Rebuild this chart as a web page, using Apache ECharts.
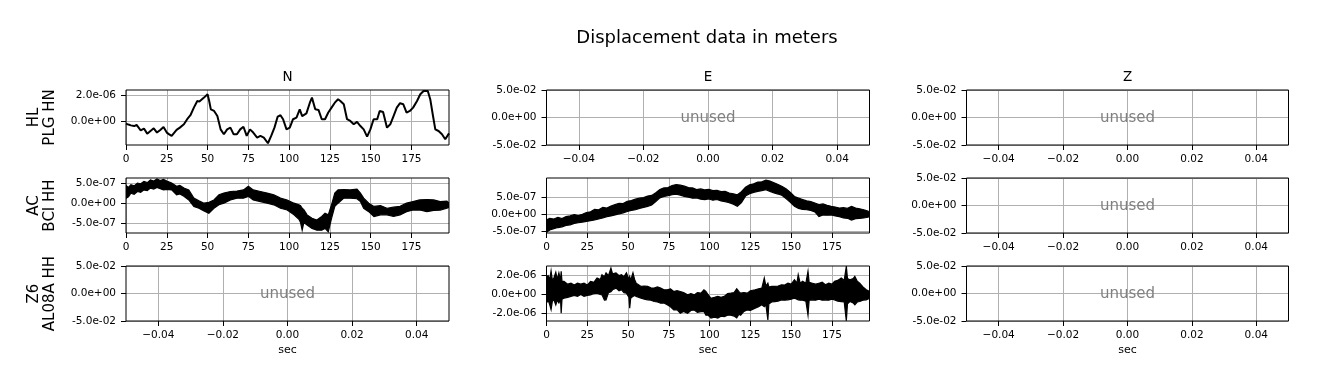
<!DOCTYPE html>
<html><head><meta charset="utf-8">
<script src="https://cdn.jsdelivr.net/npm/echarts@6/dist/echarts.min.js"></script>
<style>html,body{margin:0;padding:0;background:#fff}#c{width:1318px;height:389px}</style>
</head><body><div id="c"></div>
<script>
// ---------------- DATA ----------------
const figTitle = 'Displacement data in meters';
const colTitles = ['N', 'E', 'Z'];
const rowLabels = ['HL\nPLG HN', 'AC\nBCI HH', 'Z6\nAL08A HH'];
const timeTicks = [0, 25, 50, 75, 100, 125, 150, 175];
const unusedXTicks = [-0.04, -0.02, 0, 0.02, 0.04];
const unusedYTicks = [-0.05, 0, 0.05];
const timeMax = 198;

// HL.PLG HN, component N (values in 1e-6 m)
const plgNTime = [0,1.5,3,5,6.5,7.5,9,11,13,15,17,19,21,23,25,26.5,28,29,31,33,35.5,37.5,39.5,41.6,43.7,45,45.7,47.8,49,50,51,52,54,56,58,60,62,64,66,68,70,72,74,76,78,80.4,82.4,84.5,87,89,91,93,94.7,96.3,98.4,100.4,102.4,104.5,106.5,108,110.6,112.7,114,116,118,120,122,124,126,128,130,131.4,133.5,135.5,137.5,139.6,141.6,143.7,145.7,147.8,149.8,151.8,154,155.5,157.6,160,162,164,166,168,170,172,174,176,178.4,180.4,182.4,185,186.5,188.2,189.6,191.6,193.7,195.7,198];
const plgNVal = [-0.15,-0.22,-0.28,-0.33,-0.25,-0.2,-0.65,-0.52,-0.9,-0.7,-0.5,-0.82,-0.62,-0.4,-0.82,-0.95,-1.07,-0.95,-0.62,-0.45,-0.2,0.18,0.48,1.05,1.55,1.5,1.55,1.8,1.85,2.05,1.55,0.92,0.8,0.42,-0.58,-0.95,-0.58,-0.45,-0.95,-0.95,-0.58,-0.38,-1.07,-0.58,-0.82,-1.2,-1.07,-1.2,-1.62,-1.07,-0.45,0.38,0.48,0.18,-0.58,-0.45,0.18,0.3,0.92,0.42,0.62,1.42,1.8,0.92,0.88,0.18,0.18,0.68,1.05,1.42,1.68,1.55,1.3,0.18,0.05,-0.2,-0.02,-0.33,-0.58,-1.12,-0.58,0.18,0.18,0.8,0.72,-0.45,-0.2,0.42,1.05,1.38,1.3,0.68,0.8,1.05,1.55,2.05,2.3,2.3,1.68,0.42,-0.58,-0.7,-0.95,-1.32,-0.88];
const plgNUnit = 1e-6;
const plgNRange = [-1.75e-6, 2.37e-6];
const plgNTicks = [0, 2e-6];

// AC.BCI HH, component N (envelope, values in 1e-7 m)
const bciNTime = [0,1.5,3,5,7,9,11,13,15,17,19,21,23,25,28,31,33,35.5,38.5,41.6,44.7,47.8,50.8,53.9,57,60,64,68,72,75,78,82.4,86.5,90.6,94.7,98.8,103,106,107,108,109,111,114,117,120,122,124,126,128,130,133.5,137.5,141.6,143.7,145.7,148.8,152,156,160,164,168,172,176,180,184.5,188.6,192.6,196.7,198];
const bciNHi = [4.4,3.9,4.6,4.3,5.0,4.8,5.4,5.1,5.8,5.5,6.0,5.6,5.9,5.5,5.0,4.2,4.4,3.75,3.3,1.25,0.6,0.0,0.2,0.8,2.1,2.5,2.9,3.0,3.3,4.2,3.3,2.9,2.5,2.1,1.25,0.8,0.0,-0.4,-0.6,-1.25,-1.6,-2.9,-3.75,-4.2,-3.3,-2.5,-2.9,-0.4,2.5,3.3,3.4,3.3,3.5,2.5,1.25,0.0,-0.8,-0.6,-1.25,-1.0,-0.8,0.0,0.4,0.8,0.9,0.8,0.4,0.5,0.0];
const bciNLo = [1.2,1.6,2.5,2.2,2.9,2.7,3.3,3.1,3.75,3.5,3.9,3.6,3.3,3.4,3.3,2.1,2.3,1.7,0.8,-0.8,-1.25,-1.9,-2.5,-1.25,-0.4,0.0,0.8,1.25,1.25,1.7,0.8,0.4,0.0,-0.4,-1.25,-1.7,-2.9,-4.0,-4.8,-6.7,-4.8,-5.4,-6.25,-6.7,-6.7,-6.25,-7.1,-3.75,-0.8,0.0,1.25,1.25,1.1,0.4,-1.25,-2.1,-3.3,-2.9,-2.9,-3.3,-2.9,-2.1,-1.7,-1.7,-2.1,-1.8,-1.7,-1.25,-1.0];
const bciNUnit = 1e-7;
const bciNRange = [-7.4e-7, 6.25e-7];
const bciNTicks = [-5e-7, 0, 5e-7];

// AC.BCI HH, component E (envelope, values in 1e-7 m)
const bciETime = [0,0.6,2,4.5,7,9.5,12,14.5,17,19.5,22,24.5,27,29.5,32,34.5,37,39.5,42,44.5,47,49.5,52,54.5,57,59.5,62,64.5,67,69.5,72,74.5,77,79.5,82,84.5,87,89.5,92,94.5,97,99.5,102,104.5,107,109.5,112,114.5,117,119.5,122,124.5,127,129.5,132,134.5,137,139.5,142,144.5,147,149.5,152,154.5,157,159.5,162,164.5,167,169.5,172,174.5,177,179.5,182,184.5,187,189.5,192,194.5,197,198];
const bciEHi = [-2.3,-1.6,-1.3,-1.5,-1.0,-1.4,-0.8,-0.6,-0.2,-0.5,-0.1,0.4,0.6,1.3,1.2,1.9,1.7,2.3,2.7,3.1,3.0,3.7,3.9,4.3,4.6,4.8,5.2,5.4,6.2,7.1,7.6,7.7,8.3,8.6,8.4,8.1,7.7,7.6,7.1,7.3,7.0,7.2,6.8,6.9,6.5,6.6,6.1,5.9,5.6,6.5,7.8,8.5,8.8,9.3,9.4,9.9,9.6,9.1,8.6,8.0,7.3,6.3,5.1,4.6,4.2,3.8,3.6,3.2,2.7,2.9,2.5,2.2,2.0,1.7,1.8,1.6,2.2,1.7,1.5,1.2,0.8,0.7];
const bciELo = [-5.5,-5.2,-4.7,-4.3,-4.0,-3.8,-3.4,-3.2,-2.8,-2.6,-2.4,-2.2,-2.0,-1.8,-1.5,-1.2,-0.8,-0.6,-0.3,0.0,0.3,0.7,1.0,1.2,1.6,1.9,2.2,2.6,3.6,4.7,5.1,5.3,5.6,5.8,5.5,5.1,4.9,4.6,4.7,4.3,4.2,4.4,4.0,4.2,3.8,3.6,3.3,2.8,2.2,3.3,5.2,5.9,6.3,6.6,6.8,7.1,6.6,6.1,5.8,5.4,4.4,3.4,2.2,1.6,1.3,1.2,1.0,0.6,-0.8,-0.3,-0.4,-0.3,-0.6,-0.8,-1.2,-1.3,-1.8,-1.4,-1.3,-1.2,-1.0,-0.8];
const bciEUnit = 1e-7;
const bciERange = [-5.6e-7, 1.05e-6];
const bciETicks = [-5e-7, 0, 5e-7];

// Z6.AL08A HH, component E (envelope, values in 1e-6 m)
const alETime = [0,1,2,2.8,3.6,4.5,5.7,6.6,7.6,8.6,9.0,9.5,10.7,13,15,17,19,21,23,25,27,29,31,33,34,35.5,36.5,38,39.5,40.5,42.6,44.5,46,47.5,49,50.5,51,51.6,53,54,55,58,60,62,64,66,68,70,72,74,76,78,80,82,84,86.5,88.5,90.6,92.5,94.7,96.5,97.7,99,100.8,103,105,107,109,111,113,115,116.6,118,119,121,123,125,127.9,130,132,133.5,134.5,135.7,136.3,138,140,142,144,146,148,150,152,153.5,154.3,155.5,157,159,160.3,161,163,165,167,169,171,173,175,176.6,178.5,180.7,182.5,183.8,184.5,186,188,189,190.5,192,194,196,198];
const alEHi = [1.9,2.0,1.6,2.5,1.5,1.75,2.36,1.6,2.3,1.5,2.46,1.4,1.4,1.1,1.2,1.0,1.2,1.1,1.2,1.0,1.4,1.3,1.75,1.6,2.1,1.9,2.3,2.0,2.8,2.2,2.3,2.0,2.1,1.9,2.3,1.6,1.9,1.5,2.3,1.6,1.2,0.86,0.9,0.86,0.7,0.68,0.8,0.68,0.5,0.5,0.6,0.32,0.4,0.32,0.2,-0.04,0.1,-0.04,0.2,0.14,0.5,0.32,0.0,-0.4,-0.3,-0.2,-0.3,-0.2,0.1,0.14,0.2,0.6,0.3,0.14,0.2,0.14,0.4,0.5,0.6,0.68,1.75,0.9,1.2,0.8,0.86,0.86,0.9,1.03,1.0,1.2,1.1,1.57,1.2,2.1,1.2,1.4,1.2,2.46,1.3,1.2,1.1,1.2,1.3,1.03,1.2,1.1,1.4,1.5,1.75,1.5,3.0,1.7,1.57,1.7,1.93,1.4,1.2,0.8,0.5,0.32];
const alELo = [-0.9,-0.6,-1.1,-1.6,-0.7,-0.57,-1.1,-0.6,-0.9,-0.5,-2.0,-0.5,-0.4,-0.3,-0.2,-0.1,-0.2,0.0,-0.2,-0.1,-0.04,0.1,0.14,0.0,-0.04,-0.6,-0.57,0.2,0.3,0.5,0.68,0.4,0.5,0.2,0.14,-0.3,-1.46,-0.4,-0.2,-0.1,-0.2,-0.4,-0.5,-0.57,-0.6,-0.75,-0.8,-0.93,-0.9,-1.1,-1.3,-1.64,-1.6,-2.0,-1.8,-2.0,-1.7,-1.64,-1.9,-1.82,-1.8,-2.2,-2.2,-2.5,-2.4,-2.5,-2.3,-2.36,-2.2,-2.2,-2.3,-2.5,-2.1,-2.2,-1.8,-1.64,-1.7,-1.46,-1.3,-1.1,-1.3,-1.1,-2.7,-1.0,-0.8,-0.75,-0.7,-0.57,-0.6,-0.57,-0.5,-0.4,-0.5,-0.57,-0.6,-0.6,-0.7,-2.2,-0.6,-0.57,-0.6,-0.5,-0.6,-0.57,-0.6,-0.5,-0.57,-0.7,-0.75,-0.8,-2.8,-1.0,-0.75,-0.9,-1.1,-0.8,-0.75,-0.6,-0.57,-0.4];
const alEUnit = 1e-6;
const alERange = [-2.82e-6, 3.03e-6];
const alETicks = [-2e-6, 0, 2e-6];

// ---------------- LAYOUT ----------------
const FONT = '"DejaVu Sans", "Liberation Sans", sans-serif';
const colBoxes = [{left: 126, width: 323}, {left: 546.5, width: 323}, {left: 966.5, width: 322}];
const rowTops = [90, 178, 266];
const panelH = 55;

function sci(v) {
  if (Math.abs(v) < 1e-20) return '0.0e+00';
  const s = v.toExponential(1);
  const parts = s.split('e');
  const sign = parts[1][0] === '-' ? '-' : '+';
  let d = parts[1].replace(/^[+-]/, '');
  if (d.length < 2) d = '0' + d;
  return parts[0] + 'e' + sign + d;
}
function fmtX(v) {
  if (Math.abs(v) < 1e-12) return '0.00';
  return (v < 0 ? '\u2212' : '') + Math.abs(v).toFixed(2);
}

const panels = [
  [{kind: 'line', t: plgNTime, v: plgNVal, unit: plgNUnit, range: plgNRange, ticks: plgNTicks}, {kind: 'unused'}, {kind: 'unused'}],
  [{kind: 'band', t: bciNTime, hi: bciNHi, lo: bciNLo, unit: bciNUnit, range: bciNRange, ticks: bciNTicks},
   {kind: 'band', t: bciETime, hi: bciEHi, lo: bciELo, unit: bciEUnit, range: bciERange, ticks: bciETicks}, {kind: 'unused'}],
  [{kind: 'unused'}, {kind: 'band', t: alETime, hi: alEHi, lo: alELo, unit: alEUnit, range: alERange, ticks: alETicks}, {kind: 'unused'}]
];

const grid = [], xAxis = [], yAxis = [], series = [];
const tickStyle = {color: '#000', width: 1};
const labelBase = {color: '#000', fontSize: 10.5, fontFamily: FONT};
const splitStyle = {show: true, lineStyle: {color: '#b0b0b0', width: 1}};

let gi = 0;
for (let r = 0; r < 3; r++) {
  for (let c = 0; c < 3; c++) {
    const p = panels[r][c];
    grid.push({left: colBoxes[c].left, top: rowTops[r], width: colBoxes[c].width, height: panelH,
      show: true, borderColor: '#000', borderWidth: 1, backgroundColor: 'transparent', z: 3, containLabel: false});
    const isUnused = p.kind === 'unused';
    const xt = isUnused ? unusedXTicks : timeTicks;
    const yt = isUnused ? unusedYTicks : p.ticks;
    const xa = {
      type: 'value', gridIndex: gi,
      min: isUnused ? -0.05 : 0, max: isUnused ? 0.05 : timeMax,
      axisLine: {show: false, onZero: false},
      axisTick: {show: true, inside: false, length: 5, lineStyle: tickStyle, customValues: xt},
      axisLabel: Object.assign({customValues: xt, margin: 8.5, formatter: isUnused ? fmtX : (v) => String(Math.round(v))}, labelBase),
      splitLine: splitStyle
    };
    if (r === 2) {
      xa.name = 'sec'; xa.nameLocation = 'middle'; xa.nameGap = 24;
      xa.nameTextStyle = {color: '#000', fontSize: 11, fontFamily: FONT};
    }
    xAxis.push(xa);
    yAxis.push({
      type: 'value', gridIndex: gi,
      min: isUnused ? -0.05 : p.range[0], max: isUnused ? 0.05 : p.range[1],
      axisLine: {show: false, onZero: false},
      axisTick: {show: true, inside: false, length: 5, lineStyle: tickStyle, customValues: yt},
      axisLabel: Object.assign({customValues: yt, margin: 10, formatter: sci}, labelBase),
      splitLine: splitStyle
    });

    if (p.kind === 'line') {
      series.push({
        type: 'line', xAxisIndex: gi, yAxisIndex: gi, showSymbol: false, animation: false,
        data: p.t.map((t, i) => [t, p.v[i] * p.unit]),
        lineStyle: {color: '#000', width: 2}, itemStyle: {color: '#000'}, z: 2
      });
    } else if (p.kind === 'band') {
      const pp = p;
      series.push({
        type: 'custom', xAxisIndex: gi, yAxisIndex: gi, animation: false, clip: true,
        data: pp.t.map((t, i) => [t, pp.lo[i] * pp.unit, pp.hi[i] * pp.unit]),
        encode: {x: 0, y: [1, 2]},
        renderItem: function (params, api) {
          if (params.dataIndex !== 0) return null;
          const pts = [];
          for (let i = 0; i < pp.t.length; i++) pts.push(api.coord([pp.t[i], pp.hi[i] * pp.unit]));
          for (let i = pp.t.length - 1; i >= 0; i--) pts.push(api.coord([pp.t[i], pp.lo[i] * pp.unit]));
          return {type: 'polygon', shape: {points: pts}, style: {fill: '#000', stroke: '#000', lineWidth: 1.2}};
        },
        z: 2
      });
    } else {
      series.push({
        type: 'custom', xAxisIndex: gi, yAxisIndex: gi, animation: false,
        data: [[0, 0]],
        renderItem: function (params, api) {
          const pt = api.coord([api.value(0), api.value(1)]);
          return {type: 'text', x: pt[0], y: pt[1] + 0.5,
            style: {text: 'unused', fill: '#808080', font: '15px ' + FONT, align: 'center', verticalAlign: 'middle'}};
        },
        z: 2
      });
    }
    gi++;
  }
}

const graphic = [];
graphic.push({type: 'text', x: 707, y: 38.5, silent: true,
  style: {text: figTitle, fill: '#000', font: '18px ' + FONT, align: 'center', verticalAlign: 'middle'}});
for (let c = 0; c < 3; c++) {
  graphic.push({type: 'text', x: colBoxes[c].left + colBoxes[c].width / 2, y: 77, silent: true,
    style: {text: colTitles[c], fill: '#000', font: '13.5px ' + FONT, align: 'center', verticalAlign: 'middle'}});
}
for (let r = 0; r < 3; r++) {
  graphic.push({type: 'text', x: 42, y: rowTops[r] + panelH / 2, rotation: Math.PI / 2, silent: true,
    style: {text: rowLabels[r], fill: '#000', font: '15px ' + FONT, lineHeight: 16, align: 'center', verticalAlign: 'middle'}});
}

const chart = echarts.init(document.getElementById('c'), null, {renderer: 'canvas'});
chart.setOption({
  animation: false,
  backgroundColor: '#fff',
  grid: grid, xAxis: xAxis, yAxis: yAxis, series: series, graphic: graphic
});
</script></body></html>
